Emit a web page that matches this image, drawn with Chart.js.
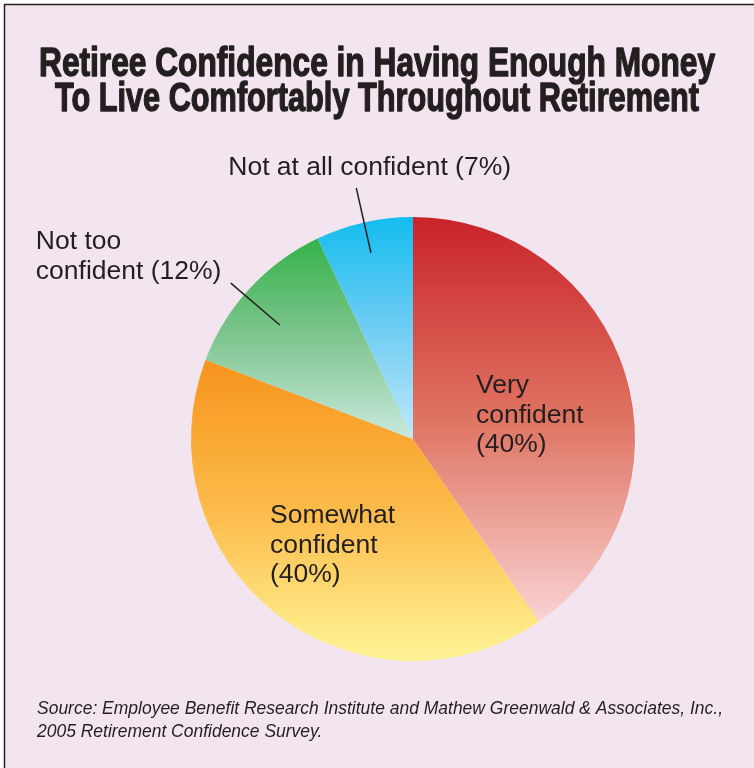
<!DOCTYPE html>
<html>
<head>
<meta charset="utf-8">
<script src="https://cdn.jsdelivr.net/npm/chart.js@4.4.1/dist/chart.umd.min.js"></script>
<style>
  html, body { margin: 0; padding: 0; background: #fff; }
  #wrap { width: 754px; height: 768px; }
</style>
</head>
<body>
<div id="wrap"><canvas id="pie" width="754" height="768"></canvas></div>
<script>
/* ─── Data ─────────────────────────────────────────────────────────────── */
const categories = ['Very confident', 'Somewhat confident', 'Not too confident', 'Not at all confident'];
const shares     = [40, 40, 12, 7];
const labelLines = [
  ['Very', 'confident', '(40%)'],
  ['Somewhat', 'confident', '(40%)'],
  ['Not too', 'confident (12%)'],
  ['Not at all confident (7%)']
];
const titleLines  = ['Retiree Confidence in Having Enough Money', 'To Live Comfortably Throughout Retirement'];
const sourceLines = [
  'Source: Employee Benefit Research Institute and Mathew Greenwald & Associates, Inc.,',
  '2005 Retirement Confidence Survey.'
];

/* ─── Styles ───────────────────────────────────────────────────────────── */
const INK = '#231f20';
const BG  = '#f3e5ef';
const palette = [
  ['#c9222a', '#df7462', '#f9d3d3'],
  ['#f7941d', '#fcbb4a', '#fff597'],
  ['#34b24a', '#80c690', '#c8e9dd'],
  ['#12bdee', '#6fcdf3', '#bfe8f9']
];
// inner labels sit relative to the pie centre, outer ones hang off a leader line
// (at = where along the slice's sweep the leader runs, from/to = radius fractions)
const labelStyle = [
  { inner: true, dx: 63,   dy: -46 },
  { inner: true, dx: -143, dy: 84 },
  { inner: false, at: 0.45, from: 0.79, to: 1.08, dx: -195, dy: -34 },
  { inner: false, at: 0.5,  from: 0.86, to: 1.16, dx: -128, dy: -13 }
];
const LABEL_FONT = "26.5px 'Liberation Sans', Arial, sans-serif";
const LINE_H = 29.5;
const TITLE_WIDTHS = [676, 644];

/* ─── Slice gradient (vertical, across each slice's own extent) ────────── */
function sliceGradient(ctx) {
  const i = ctx.dataIndex;
  const stops = palette[i];
  const area = ctx.chart.chartArea;
  if (!area) return stops[0];
  const cx = (area.left + area.right) / 2;
  const cy = (area.top + area.bottom) / 2;
  const r  = Math.min(area.width, area.height) / 2;
  const total  = shares.reduce((s, v) => s + v, 0);
  const before = shares.slice(0, i).reduce((s, v) => s + v, 0);
  const a0 = -Math.PI / 2 + before / total * 2 * Math.PI;
  const a1 = a0 + shares[i] / total * 2 * Math.PI;
  const ys = [cy, cy + r * Math.sin(a0), cy + r * Math.sin(a1)];
  const within = a => { let t = a; while (t < a0 - 1e-9) t += 2 * Math.PI; return t <= a1 + 1e-9; };
  if (within(Math.PI / 2))  ys.push(cy + r);
  if (within(-Math.PI / 2)) ys.push(cy - r);
  const g = ctx.chart.ctx.createLinearGradient(0, Math.min(...ys), 0, Math.max(...ys));
  g.addColorStop(0, stops[0]);
  g.addColorStop(0.5, stops[1]);
  g.addColorStop(1, stops[2]);
  return g;
}

/* ─── Frame + title + source ───────────────────────────────────────────── */
const framePlugin = {
  id: 'frame',
  beforeDraw(chart) {
    const c = chart.ctx;
    c.save();
    c.fillStyle = '#fff';
    c.fillRect(0, 0, chart.width, chart.height);
    c.fillStyle = BG;
    c.fillRect(4, 4, chart.width - 4, chart.height - 4);
    c.strokeStyle = INK;
    c.lineWidth = 1.5;
    c.beginPath();
    c.moveTo(4.5, chart.height);
    c.lineTo(4.5, 4.5);
    c.lineTo(chart.width, 4.5);
    c.stroke();
    c.restore();
  },
  afterDraw(chart) {
    const c = chart.ctx;
    c.save();
    c.fillStyle = INK;
    c.strokeStyle = INK;

    // title: heavy condensed look via horizontal squeeze + thin stroke
    c.font = "bold 40px 'Liberation Sans', Arial, sans-serif";
    titleLines.forEach((t, k) => {
      const sx = TITLE_WIDTHS[k] / c.measureText(t).width;
      c.save();
      c.translate(chart.width / 2, 76 + k * 35);
      c.scale(sx, 1);
      c.textAlign = 'center';
      c.lineWidth = 1.4;
      c.lineJoin = 'round';
      c.fillText(t, 0, 0);
      c.strokeText(t, 0, 0);
      c.restore();
    });

    // source note
    c.font = "italic 17.5px 'Liberation Sans', Arial, sans-serif";
    const ss = 686 / c.measureText(sourceLines[0]).width;
    sourceLines.forEach((t, k) => {
      c.save();
      c.translate(37, 714 + k * 23);
      c.scale(ss, 1);
      c.textAlign = 'left';
      c.fillText(t, 0, 0);
      c.restore();
    });
    c.restore();
  }
};

/* ─── Slice labels + leader lines ──────────────────────────────────────── */
const labelPlugin = {
  id: 'sliceLabels',
  afterDatasetsDraw(chart) {
    const c = chart.ctx;
    const meta = chart.getDatasetMeta(0);
    c.save();
    c.font = LABEL_FONT;
    c.fillStyle = INK;
    c.strokeStyle = INK;
    c.textAlign = 'left';
    c.textBaseline = 'alphabetic';
    meta.data.forEach((arc, i) => {
      const { x, y, startAngle, endAngle, outerRadius } = arc.getProps(['x', 'y', 'startAngle', 'endAngle', 'outerRadius'], true);
      const st = labelStyle[i];
      let ox = x, oy = y;
      if (!st.inner) {
        const a = startAngle + (endAngle - startAngle) * st.at;
        const x0 = x + Math.cos(a) * outerRadius * st.from;
        const y0 = y + Math.sin(a) * outerRadius * st.from;
        ox = x + Math.cos(a) * outerRadius * st.to;
        oy = y + Math.sin(a) * outerRadius * st.to;
        c.lineWidth = 1.5;
        c.beginPath();
        c.moveTo(x0, y0);
        c.lineTo(ox, oy);
        c.stroke();
      }
      labelLines[i].forEach((line, k) => {
        c.fillText(line, ox + st.dx, oy + st.dy + k * LINE_H);
      });
    });
    c.restore();
  }
};

/* ─── Chart ────────────────────────────────────────────────────────────── */
new Chart(document.getElementById('pie'), {
  type: 'pie',
  data: {
    labels: categories,
    datasets: [{
      data:            shares,
      backgroundColor: sliceGradient,
      borderWidth:     0,
      hoverOffset:     0
    }]
  },
  options: {
    responsive: false,
    animation: false,
    events: [],
    layout: { padding: { left: 191, right: 119, top: 217, bottom: 107 } },
    plugins: {
      legend:  { display: false },
      tooltip: { enabled: false },
      title:   { display: false }
    }
  },
  plugins: [framePlugin, labelPlugin]
});
</script>
</body>
</html>
